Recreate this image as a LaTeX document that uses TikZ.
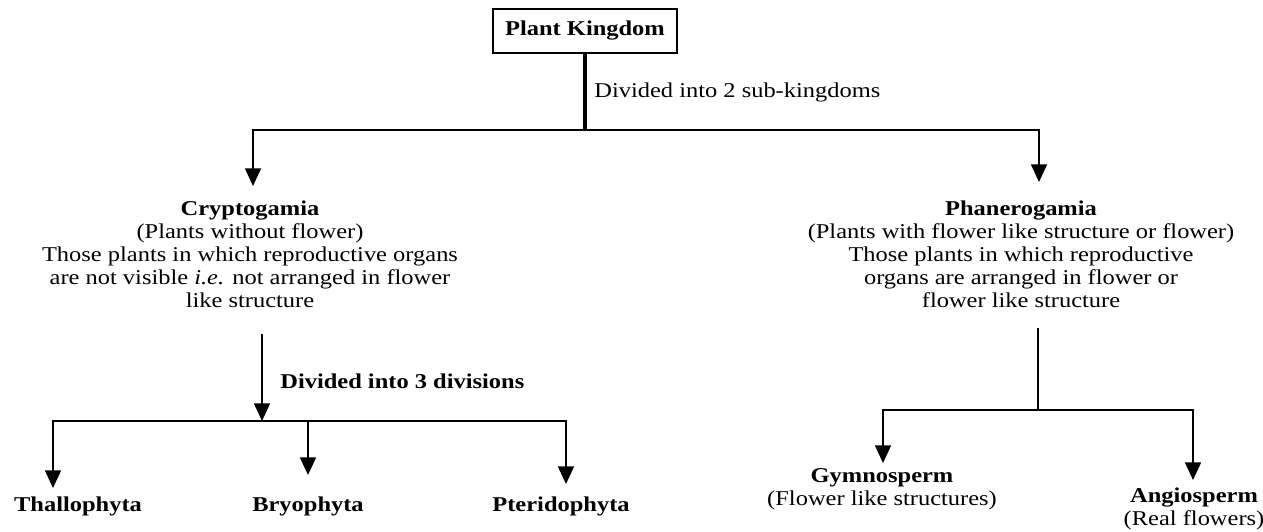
\documentclass[tikz,border=0pt]{standalone}
\usepackage{fontspec}
\setmainfont[FakeStretch=1.16]{Liberation Serif}
\usetikzlibrary{arrows.meta}

\begin{document}
\begin{tikzpicture}[x=0.02cm, y=-0.02cm,
        every node/.style={inner sep=0pt, font=\fontsize{12}{13}\selectfont},
        wire/.style={line width=1.2pt},
        arr/.style={wire, -{Triangle[width=9pt, length=10pt]}},
        txt/.style={align=center, anchor=north}]
        \useasboundingbox (0, 0) rectangle (1263, 531);

        % top box
        \node[draw, line width=1.2pt, minimum width=3.68cm, minimum height=0.88cm, font=\fontsize{12}{13}\selectfont\bfseries] (kingdom) at (585, 31) {Plant Kingdom};
        \coordinate (split1) at (585, 130);
        \draw[line width=2.4pt] (kingdom.south) -- (split1);
        \draw[wire] (253, 130) -- (1039, 130);
        \node[anchor=base west] (sub) at (594, 97) {Divided into 2 sub-kingdoms};

        % two sub-kingdoms
        \node[txt] (crypto) at (250, 201) {\textbf{Cryptogamia}\\(Plants without flower)\\Those plants in which reproductive organs\\are not visible \textit{i.e.} not arranged in flower\\like structure};
        \node[txt] (phanero) at (1021, 201) {\textbf{Phanerogamia}\\(Plants with flower like structure or flower)\\Those plants in which reproductive\\organs are arranged in flower or\\flower like structure};

        \coordinate (tipCry) at (253, 186);
        \coordinate (tipPha) at (1039, 182);
        \draw[arr] (split1) -| (tipCry);
        \draw[arr] (split1) -| (tipPha);

        % Cryptogamia divisions
        \coordinate (split2) at (262, 421);
        \draw[arr] (crypto.south -| split2) ++(0, 26) -- (split2);
        \node[anchor=base west, font=\fontsize{12}{13}\selectfont\bfseries] (three) at (280, 388) {Divided into 3 divisions};
        \draw[wire] (53, 421) -- (566, 421);

        \node[anchor=base] (thallo) at (78, 511) {\textbf{Thallophyta}};
        \node[anchor=base] (bryo) at (308, 511) {\textbf{Bryophyta}};
        \node[anchor=base] (pterido) at (561, 511) {\textbf{Pteridophyta}};
        \coordinate (tipTha) at (53, 488);
        \coordinate (tipBry) at (308, 475);
        \coordinate (tipPte) at (566, 484);
        \draw[arr] (split2) -| (tipTha);
        \draw[arr] (split2) -| (tipBry);
        \draw[arr] (split2) -| (tipPte);

        % Phanerogamia groups
        \coordinate (split3) at (1038, 410);
        \draw[wire] (phanero.south -| split3) ++(0, 20) -- (split3);
        \draw[wire] (883, 410) -- (1193, 410);

        \node[txt] (gymno) at (882, 468) {\textbf{Gymnosperm}\\(Flower like structures)};
        \node[txt] (angio) at (1194, 488) {\textbf{Angiosperm}\\(Real flowers)};
        \coordinate (tipGym) at (883, 463);
        \coordinate (tipAng) at (1193, 480);
        \draw[arr] (split3) -| (tipGym);
        \draw[arr] (split3) -| (tipAng);
    \end{tikzpicture}
\end{document}
